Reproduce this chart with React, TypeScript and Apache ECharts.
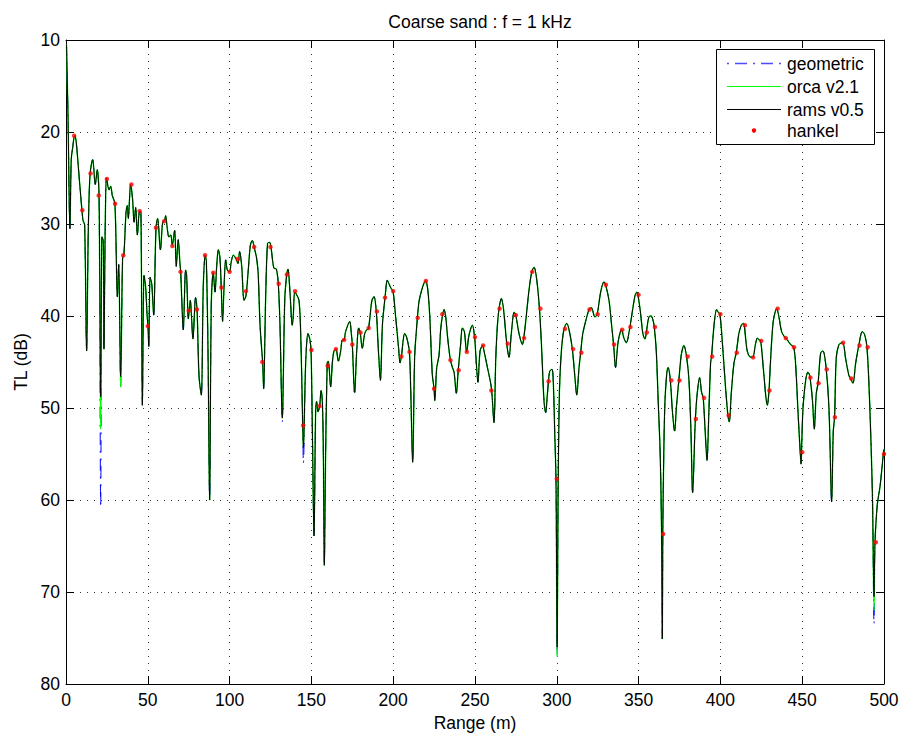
import { useEffect, useRef } from 'react';
import * as echarts from 'echarts';

// rams v0.5 curve: [range (m), TL (dB)]
const ramsPoints: [number, number][] = [
  [0.3,10.5],[1.2,18.0],[2.4,30.5],[3.2,23.0],[4.0,21.8],[5.3,20.4],[6.2,21.0],[7.9,24.6],[9.4,27.8],[10.4,29.6],[11.4,30.1],[12.6,43.8],[13.6,31.0],[14.7,24.6],[16.3,23.0],[17.9,25.7],[19.1,24.1],[20.2,26.9],[21.2,48.8],[22.0,31.4],[22.8,31.9],[23.2,43.6],[24.0,30.0],[24.8,25.0],[26.3,26.3],[27.3,25.9],[28.3,26.9],[29.9,27.8],[31.4,37.9],[32.2,34.4],[33.4,46.6],[34.6,33.7],[35.4,33.3],[36.7,28.7],[37.5,28.0],[38.1,29.4],[39.5,25.7],[40.7,27.3],[41.6,29.8],[42.6,28.2],[43.6,31.2],[45.0,28.6],[45.8,28.7],[46.7,49.7],[47.7,35.6],[48.7,36.9],[49.6,40.0],[50.1,41.1],[50.6,43.3],[51.4,35.8],[52.4,36.5],[53.6,39.9],[55.0,30.4],[56.0,29.4],[57.7,32.8],[59.1,29.8],[60.3,29.6],[60.9,29.1],
  [61.9,30.5],[62.9,31.4],[64.0,31.2],[65.0,32.3],[66.4,30.7],[67.4,34.6],[68.6,31.7],[69.7,34.4],[70.1,35.2],[71.7,41.5],[73.1,35.0],[73.7,35.5],[74.8,40.3],[75.4,39.3],[76.0,38.3],[76.6,39.7],[77.6,42.5],[79.2,38.0],[80.1,39.3],[81.3,46.5],[82.7,48.6],[83.9,36.9],[85.1,33.4],[85.8,34.1],[86.8,43.8],[87.8,60.0],[88.8,38.7],[90.0,35.3],[91.1,37.4],[92.1,34.6],[93.1,32.8],[94.1,33.7],[94.9,36.9],[95.7,40.6],[96.6,36.9],[97.6,33.9],[98.6,35.0],[100.0,35.2],[101.0,34.1],[102.3,33.4],[103.7,33.7],[105.1,34.3],[106.1,33.0],[107.4,34.6],[108.8,38.3],[110.0,37.8],[111.2,35.5],[112.7,32.3],[113.9,31.8],[115.1,32.6],[116.5,33.7],[117.5,35.5],[118.6,41.0],[120.2,45.1],[120.8,47.9],[122.0,38.3],[123.2,32.1],[124.5,32.0],[125.3,32.5],
  [126.1,33.7],[127.1,34.8],[128.6,34.9],[129.8,36.6],[130.8,41.0],[132.2,51.1],[133.7,38.3],[134.9,35.5],[135.7,34.9],[136.9,37.4],[138.3,41.0],[138.9,40.1],[139.8,37.4],[141.0,37.7],[142.4,38.3],[143.4,41.5],[144.7,51.9],[145.1,54.3],[146.5,45.1],[147.9,41.9],[149.1,42.6],[149.8,43.8],[150.6,52.5],[151.6,63.9],[152.6,50.2],[153.2,49.3],[154.0,50.4],[155.0,49.9],[155.9,48.1],[156.7,49.3],[157.3,54.8],[157.9,67.1],[158.7,54.8],[159.7,45.1],[160.3,44.9],[161.8,47.7],[162.8,45.1],[163.8,43.8],[165.0,43.6],[166.5,44.9],[167.9,43.8],[168.9,42.6],[169.9,42.6],[170.9,41.7],[173.4,40.6],[174.4,41.9],[175.0,43.1],[176.4,48.3],[177.7,43.8],[178.9,41.3],[179.9,41.9],[181.1,43.5],[182.6,41.9],[183.8,41.5],[184.8,41.4],[185.8,40.1],[187.0,38.3],[188.3,37.9],[189.7,39.6],[190.6,42.5],[191.2,44.5],
  [192.2,47.0],[193.4,41.0],[195.0,38.0],[196.4,36.1],[197.4,36.5],[198.7,37.0],[199.9,37.3],[201.5,40.1],[203.2,43.3],[204.2,45.1],[205.0,44.4],[207.0,41.9],[208.2,42.3],[209.9,43.9],[210.7,48.0],[211.9,55.9],[213.1,44.5],[214.2,41.5],[214.8,40.2],[215.8,38.4],[217.4,37.2],[218.9,36.4],[219.9,36.2],[221.3,37.4],[222.5,40.6],[223.9,46.4],[225.0,47.9],[225.4,49.2],[226.6,45.6],[228.0,44.3],[229.0,41.5],[230.0,40.1],[231.1,39.3],[232.1,40.1],[233.3,42.4],[234.9,44.7],[236.2,45.6],[237.2,46.1],[238.6,48.4],[239.8,45.8],[241.1,43.3],[242.3,41.3],[243.5,41.7],[244.9,43.9],[246.3,42.1],[248.4,41.0],[249.8,42.4],[250.8,45.1],[251.8,47.2],[253.1,43.8],
  [254.7,43.2],[255.5,43.8],[257.6,45.6],[260.0,47.8],[261.6,51.6],[262.7,44.6],[263.7,41.0],[264.7,39.2],[266.1,38.1],[267.4,39.2],[269.4,43.0],[270.8,44.5],[272.2,41.9],[273.9,39.6],[274.9,39.9],[276.9,41.9],[279.0,43.1],[279.8,42.4],[281.0,40.6],[283.0,37.2],[284.7,35.2],[286.1,34.7],[287.7,36.0],[289.4,39.2],[290.8,43.8],[292.2,49.3],[293.2,50.5],[294.2,48.6],[294.9,47.1],[295.7,46.0],[297.1,45.8],[297.9,47.4],[298.7,52.5],[299.5,57.7],[300.2,76.0],[300.8,59.3],[301.6,48.3],[302.8,43.8],[304.4,41.4],[306.1,40.8],[307.5,41.5],[309.5,43.6],[311.0,46.5],[312.2,48.6],[313.6,45.6],[314.6,44.0],[315.8,42.0],[317.6,40.6],[319.7,39.3],
  [321.1,39.1],[323.3,40.1],[324.7,39.8],[326.8,37.4],[328.8,36.3],[329.8,36.6],[331.9,38.3],[333.5,41.0],[334.7,43.1],[335.9,45.6],[337.4,42.9],[339.0,41.6],[339.6,41.5],[341.0,42.4],[342.5,42.9],[344.7,41.2],[346.1,39.6],[347.8,37.8],[349.0,37.4],[349.6,37.7],[351.2,39.7],[352.6,41.9],[353.9,42.5],[354.7,41.8],[356.3,40.1],[357.7,40.0],[359.0,40.6],[359.6,41.2],[360.8,43.8],[362.0,49.3],[363.2,55.0],[364.0,63.0],[364.5,75.1],[364.8,63.7],[365.3,56.0],[366.1,49.3],[367.3,46.1],[368.1,45.6],[369.4,47.0],[370.6,50.2],[372.0,52.5],[373.2,49.7],[374.6,47.0],[376.1,44.2],[377.7,43.2],[379.3,44.4],[380.8,47.0],[382.0,52.5],[383.0,59.2],[384.7,51.2],
  [385.9,48.3],[387.3,46.7],[388.5,48.3],[389.5,48.9],[390.8,52.9],[391.8,55.7],[393.0,50.2],[394.0,45.1],[394.6,44.4],[396.1,41.0],[397.7,39.3],[398.7,39.6],[399.7,39.8],[401.2,42.9],[403.2,47.9],[404.6,50.8],[405.4,51.5],[406.7,48.3],[408.3,45.1],[409.7,44.0],[411.3,41.9],[412.8,41.0],[414.0,40.8],[414.6,41.0],[415.4,42.4],[416.4,43.8],[417.8,44.4],[419.7,44.5],[421.5,43.0],[422.6,42.4],[423.6,42.6],[424.6,42.7],[426.2,45.6],[427.8,48.8],[428.7,49.7],[429.7,48.1],[430.7,44.7],[432.3,40.6],[434.4,39.2],[435.8,40.1],[437.4,41.7],[439.7,42.4],[440.9,42.6],[442.9,43.1],[444.8,43.4],[446.0,45.3],
  [447.6,51.0],[448.8,54.8],[449.3,56.1],[449.7,54.0],[450.5,50.0],[452.1,47.0],[453.5,46.1],[454.6,46.5],[456.2,49.0],[457.4,52.3],[458.6,48.4],[459.7,47.3],[461.3,44.0],[462.7,43.8],[464.7,45.8],[466.4,50.2],[468.0,60.2],[469.0,52.5],[469.8,51.0],[470.8,44.6],[472.5,43.1],[474.7,42.9],[476.6,44.7],[478.6,46.5],[479.6,46.8],[481.0,47.3],[482.7,45.1],[484.7,43.1],[486.7,41.7],[488.1,42.0],[489.6,43.4],[491.2,49.3],[492.9,59.3],[493.9,70.5],[494.5,64.6],[495.9,60.5],[497.6,58.5],[499.6,55.0],[500.0,54.5]
];

// where orca v2.1 / geometric go deeper than rams: [range, TL]
const orcaDips: [number, number][] = [[21.2, 52.3], [33.4, 47.7], [300.2, 77.0], [493.9, 72.0]];
const geomDips: [number, number][] = [[21.2, 60.8], [33.4, 47.7], [132.2, 51.5], [145.1, 56.0], [176.4, 48.6], [300.2, 76.8], [493.9, 73.5]];

// hankel reference points
const hankelRange = [5,10,15,20,25,30,35,40,45,50,55,60,65,70,75,80,85,90,95,100,105,110,115,120,125,130,135,140,145,150,155,160,165,170,175,180,185,190,195,200,205,210,215,220,225,230,235,240,245,250,255,260,265,270,275,280,285,290,295,300,305,310,315,320,325,330,335,340,345,350,355,360,365,370,375,380,385,390,395,400,405,410,415,420,425,430,435,440,445,450,455,460,465,470,475,480,485,490,495,500];
const hankelTL = [20.4,28.5,24.5,26.9,25.1,27.8,33.4,25.7,28.6,41.1,30.4,29.7,32.4,35.2,39.4,39.3,33.4,35.3,36.9,35.2,33.8,37.3,32.5,45.0,32.5,36.5,35.5,37.3,51.9,43.7,49.8,45.4,43.6,42.6,43.1,41.8,41.3,39.5,38.0,37.3,44.4,43.9,40.2,36.2,47.9,39.8,44.8,45.9,43.9,42.3,43.2,48.1,39.2,43.0,39.9,42.4,35.2,39.2,47.1,57.7,41.4,43.6,44.0,39.3,39.8,36.6,43.1,41.5,41.2,37.7,41.8,41.2,63.7,47.0,47.0,44.4,51.2,48.9,44.4,39.8,50.8,44.0,41.0,44.5,42.7,48.1,39.2,42.4,43.4,54.8,46.7,47.3,45.8,51.0,42.9,46.8,43.2,43.4,64.6,55.0];

const seriesNames = ['geometric', 'orca v2.1', 'rams v0.5', 'hankel'];
const titleText = 'Coarse sand : f = 1 kHz';
const xName = 'Range (m)';
const yName = 'TL (dB)';

const FONT = '"Liberation Sans", Arial, Helvetica, sans-serif';

export default function App() {
  const ref = useRef<HTMLDivElement>(null);
  useEffect(() => {
    const chart = echarts.init(ref.current!, null, { renderer: 'svg' });
    const withDips = (dips: [number, number][]) => {
      const m = new Map(dips.map(([r, v]) => [r, v]));
      return ramsPoints.map(([r, v]) => [r, m.has(r) ? m.get(r) : v]);
    };
    const gridLine = { show: true, lineStyle: { color: '#333', width: 1, type: [1, 6] as any } };
    const tick = { show: true, inside: true, length: 8, lineStyle: { color: '#000', width: 1 } };
    const axLine = { show: true, onZero: false, lineStyle: { color: '#000', width: 1 } };
    const lbl = { color: '#000', fontSize: 17.5, fontFamily: FONT };
    const legendRows = [63.5, 86.5, 109.5, 130.5];
    const option: any = {
      animation: false,
      backgroundColor: '#fff',
      title: {
        text: titleText,
        left: 475,
        top: 8,
        textAlign: 'center',
        textStyle: { fontSize: 17.5, fontWeight: 'normal', color: '#000', fontFamily: FONT },
      },
      grid: { left: 66, right: 18, top: 40, bottom: 54, show: false },
      xAxis: [
        {
          type: 'value', min: 0, max: 500, interval: 50, position: 'bottom',
          axisLine: axLine, axisTick: tick, splitLine: gridLine,
          axisLabel: { ...lbl, margin: 7 },
          name: xName, nameLocation: 'middle', nameGap: 25,
          nameTextStyle: { ...lbl },
        },
        {
          type: 'value', min: 0, max: 500, interval: 50, position: 'top',
          axisLine: axLine, axisTick: tick, splitLine: { show: false }, axisLabel: { show: false },
        },
      ],
      yAxis: [
        {
          type: 'value', min: 10, max: 80, interval: 10, inverse: true, position: 'left',
          axisLine: axLine, axisTick: tick, splitLine: gridLine,
          axisLabel: { ...lbl, margin: 6 },
          name: yName, nameLocation: 'middle', nameGap: 36, nameRotate: 90,
          nameTextStyle: { ...lbl },
        },
        {
          type: 'value', min: 10, max: 80, interval: 10, inverse: true, position: 'right',
          axisLine: axLine, axisTick: tick, splitLine: { show: false }, axisLabel: { show: false },
        },
      ],
      series: [
        {
          name: seriesNames[0], type: 'line', data: withDips(geomDips), symbol: 'none', showSymbol: false,
          smooth: 0.3, silent: true, z: 2,
          lineStyle: { color: '#0000ff', width: 1, type: [12, 6, 2, 6] },
        },
        {
          name: seriesNames[1], type: 'line', data: withDips(orcaDips), symbol: 'none', showSymbol: false,
          smooth: 0.3, silent: true, z: 3,
          lineStyle: { color: '#00ff00', width: 1.4 },
        },
        {
          name: seriesNames[2], type: 'line', data: ramsPoints, symbol: 'none', showSymbol: false,
          smooth: 0.3, silent: true, z: 4,
          lineStyle: { color: '#000000', width: 1 },
        },
        {
          name: seriesNames[3], type: 'scatter', data: hankelRange.map((r, i) => [r, hankelTL[i]]),
          symbol: 'circle', symbolSize: 4.5, silent: true, z: 5,
          itemStyle: { color: '#ff0000' },
        },
      ],
      graphic: [
        { type: 'rect', z: 100, shape: { x: 716.5, y: 49.5, width: 158, height: 95 }, style: { fill: '#fff', stroke: '#000', lineWidth: 1 } },
        { type: 'line', z: 101, shape: { x1: 727, y1: legendRows[0], x2: 781, y2: legendRows[0] }, style: { stroke: '#4d4dff', lineWidth: 1.5, lineDash: [2, 6, 12, 6] } },
        { type: 'line', z: 101, shape: { x1: 727, y1: legendRows[1], x2: 781, y2: legendRows[1] }, style: { stroke: '#00ff00', lineWidth: 1 } },
        { type: 'line', z: 101, shape: { x1: 727, y1: legendRows[2], x2: 781, y2: legendRows[2] }, style: { stroke: '#000000', lineWidth: 1 } },
        { type: 'circle', z: 101, shape: { cx: 754, cy: legendRows[3], r: 2.2 }, style: { fill: '#ff0000' } },
        ...seriesNames.map((n, i) => ({
          type: 'text', z: 101, x: 787, y: legendRows[i],
          style: { text: n, fill: '#000', font: `17.5px ${FONT}`, verticalAlign: 'middle', textAlign: 'left' },
        })),
      ],
    };
    chart.setOption(option);
    return () => chart.dispose();
  }, []);
  return <div ref={ref} style={{ position: 'absolute', left: 0, top: 0, width: 902, height: 738, background: '#fff' }} />;
}
